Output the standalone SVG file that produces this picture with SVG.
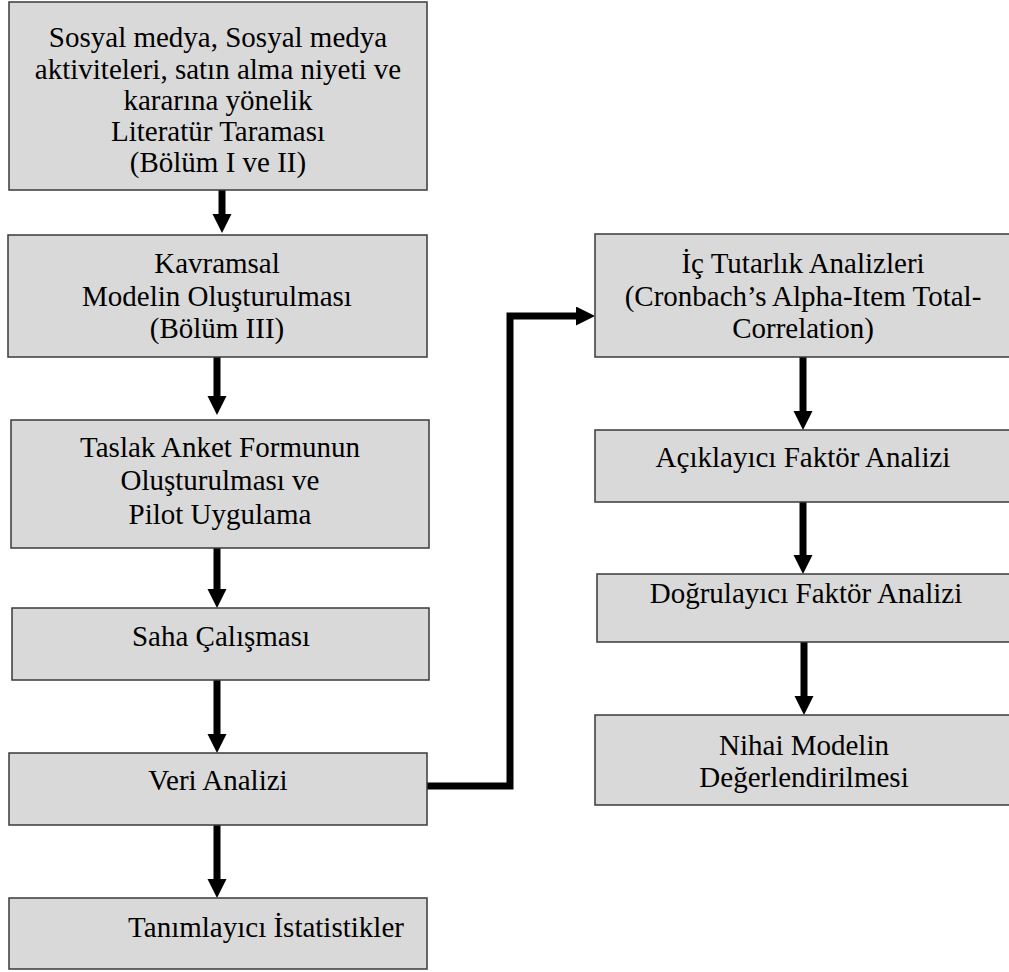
<svg xmlns="http://www.w3.org/2000/svg" width="1009" height="972" viewBox="0 0 1009 972">
<style>
.box{fill:#d9d9d9;stroke:#3a3a3a;stroke-width:1.5}
.t{font-family:"Liberation Serif","Times New Roman",serif;font-size:29px;fill:#000;text-anchor:middle}
.c{fill:none;stroke:#000;stroke-width:7;stroke-linejoin:miter;marker-end:url(#ah)}
</style>
<defs>
<marker id="ah" markerUnits="userSpaceOnUse" markerWidth="20" markerHeight="20" refX="0" refY="9.5" orient="auto">
<path d="M0,0 L19,9.5 L0,19 z" fill="#000"/>
</marker>
</defs>
<g id="connectors">
<line class="c" x1="222" y1="190" x2="222" y2="214"/>
<line class="c" x1="217" y1="357" x2="217" y2="396"/>
<line class="c" x1="217" y1="548" x2="217" y2="589"/>
<line class="c" x1="217" y1="680" x2="217" y2="734"/>
<line class="c" x1="217" y1="825" x2="217" y2="879"/>
<path class="c" d="M427,786 H510 V316 H576"/>
<line class="c" x1="803" y1="357" x2="803" y2="411"/>
<line class="c" x1="803" y1="502" x2="803" y2="555"/>
<line class="c" x1="804" y1="642" x2="804" y2="696"/>
</g>
<g id="n1">
<rect class="box" x="9" y="2" width="418" height="188"/>
<text class="t" x="218" y="47">Sosyal medya, Sosyal medya</text>
<text class="t" x="218" y="78.5">aktiviteleri, satın alma niyeti ve</text>
<text class="t" x="218" y="110">kararına yönelik</text>
<text class="t" x="218" y="141">Literatür Taraması</text>
<text class="t" x="218" y="172">(Bölüm I ve II)</text>
</g>
<g id="n2">
<rect class="box" x="8" y="235" width="419" height="122"/>
<text class="t" x="217" y="273">Kavramsal</text>
<text class="t" x="217" y="306">Modelin Oluşturulması</text>
<text class="t" x="217" y="338">(Bölüm III)</text>
</g>
<g id="n3">
<rect class="box" x="11" y="420" width="418" height="128"/>
<text class="t" x="220" y="457">Taslak Anket Formunun</text>
<text class="t" x="220" y="490">Oluşturulması ve</text>
<text class="t" x="220" y="524">Pilot Uygulama</text>
</g>
<g id="n4">
<rect class="box" x="12" y="608" width="417" height="72"/>
<text class="t" x="221" y="646">Saha Çalışması</text>
</g>
<g id="n5">
<rect class="box" x="9" y="753" width="418" height="72"/>
<text class="t" x="218" y="790">Veri Analizi</text>
</g>
<g id="n6">
<rect class="box" x="9" y="898" width="418" height="71"/>
<text class="t" x="266" y="937">Tanımlayıcı İstatistikler</text>
</g>
<g id="n7">
<rect class="box" x="595" y="234" width="420" height="123"/>
<text class="t" x="803" y="273">İç Tutarlık Analizleri</text>
<text class="t" x="803" y="306">(Cronbach’s Alpha-Item Total-</text>
<text class="t" x="803" y="338">Correlation)</text>
</g>
<g id="n8">
<rect class="box" x="595" y="430" width="420" height="72"/>
<text class="t" x="803" y="467">Açıklayıcı Faktör Analizi</text>
</g>
<g id="n9">
<rect class="box" x="597" y="574" width="418" height="68"/>
<text class="t" x="806" y="603">Doğrulayıcı Faktör Analizi</text>
</g>
<g id="n10">
<rect class="box" x="595" y="715" width="420" height="90"/>
<text class="t" x="804" y="755">Nihai Modelin</text>
<text class="t" x="804" y="787">Değerlendirilmesi</text>
</g>
</svg>
